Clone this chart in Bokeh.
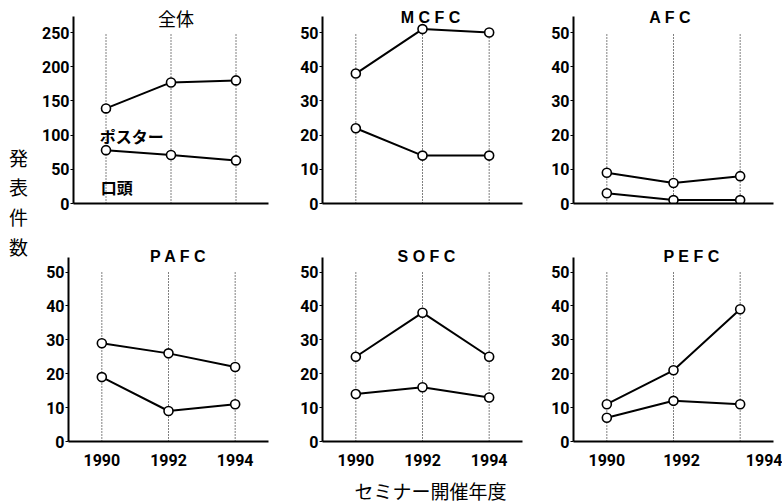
from bokeh.plotting import figure
from bokeh.layouts import column, row
from bokeh.models import FixedTicker, Range1d
from bokeh.embed import file_html
from bokeh.resources import INLINE
from bokeh.core.properties import value

# ---------------- data ----------------
years = [1990, 1992, 1994]
year_labels = ["1990", "1992", "1994"]

zentai_upper = [139, 177, 180]
zentai_lower = [78, 71, 63]
mcfc_upper = [38, 51, 50]
mcfc_lower = [22, 14, 14]
afc_upper = [9, 6, 8]
afc_lower = [3, 1, 1]
pafc_upper = [29, 26, 22]
pafc_lower = [19, 9, 11]
sofc_upper = [25, 38, 25]
sofc_lower = [14, 16, 13]
pefc_upper = [11, 21, 39]
pefc_lower = [7, 12, 11]

ticks_250 = [0, 50, 100, 150, 200, 250]
ticks_50 = [0, 10, 20, 30, 40, 50]

titles = ["全体", "M C F C", "A F C", "P A F C", "S O F C", "P E F C"]
label_poster = "ポスター"
label_oral = "口頭"
y_title_chars = ["発", "表", "件", "数"]
x_title = "セミナー開催年度"

CJK = "Noto Sans CJK JP"
LAT = "Liberation Sans"
NUM = "Roboto"


def panel(title, upper, lower, top_tick, yticks, scale, width, mbl, mbr,
          height, mbt, mbb, y_end, axis_top, title_x, title_y,
          show_xlabels, xtick_pos=None, cjk_title=False):
    p = figure(width=width, height=height, x_range=(1989.0, 1995.0),
               y_range=(0, y_end * scale), output_backend="svg",
               toolbar_location=None, min_border_left=mbl,
               min_border_right=mbr, min_border_top=mbt,
               min_border_bottom=mbb)
    p.grid.visible = False
    p.outline_line_color = None
    p.background_fill_color = "white"
    p.border_fill_color = "white"

    # dotted year guides
    p.segment(x0=years, y0=[0] * 3, x1=years, y1=[top_tick] * 3,
              line_color="black", line_width=1, line_dash="1 2")
    for series in (upper, lower):
        p.line(years, series, line_color="black", line_width=2)
        p.scatter(years, series, size=9, marker="circle",
                  fill_color="white", line_color="black", line_width=1.6)

    if cjk_title:
        p.text(x=[title_x], y=[title_y * scale], text=[title],
               text_align="center", text_baseline="middle",
               text_font=value(CJK), text_font_size="18px",
               text_color="black")
    else:
        p.text(x=[title_x], y=[title_y * scale], text=[title],
               text_align="center", text_baseline="middle",
               text_font=value(LAT), text_font_size="16px",
               text_font_style="bold", text_color="black")

    ya = p.yaxis[0]
    ya.ticker = FixedTicker(ticks=yticks)
    ya.bounds = (0, axis_top * scale)
    ya.axis_line_width = 2
    ya.major_tick_out = 3
    ya.major_tick_in = 0
    ya.minor_tick_out = 0
    ya.minor_tick_in = 0
    ya.major_label_standoff = 1
    ya.major_label_text_font = NUM
    ya.major_label_text_font_style = "bold"
    ya.major_label_text_font_size = "16px"
    ya.major_label_text_color = "black"

    xa = p.xaxis[0]
    xa.axis_line_width = 2
    xa.major_tick_out = 0
    xa.major_tick_in = 0
    xa.minor_tick_out = 0
    xa.minor_tick_in = 0
    if show_xlabels:
        pos = xtick_pos if xtick_pos is not None else years
        xa.ticker = FixedTicker(ticks=pos)
        xa.major_label_overrides = {pos[i]: year_labels[i] for i in range(3)}
        xa.major_label_standoff = 12
        xa.major_label_text_font = NUM
        xa.major_label_text_font_style = "bold"
        xa.major_label_text_font_size = "16px"
        xa.major_label_text_color = "black"
    else:
        xa.ticker = FixedTicker(ticks=[])
    return p


R1 = dict(height=230, mbt=0, mbb=27, y_end=59.36, axis_top=54.7)
R2 = dict(height=244, mbt=10, mbb=33, y_end=59.3, axis_top=54.3)
C1 = dict(width=232, mbl=30, mbr=2)
C2 = dict(width=254, mbl=52, mbr=2)
C3 = dict(width=258, mbl=49, mbr=9)

f1 = panel(titles[0], zentai_upper, zentai_lower, 250, ticks_250, 5,
           title_x=1992.15, title_y=54.2, show_xlabels=False,
           cjk_title=True, **C1, **R1)
f2 = panel(titles[1], mcfc_upper, mcfc_lower, 50, ticks_50, 1,
           title_x=1992.24, title_y=54.4, show_xlabels=False, **C2, **R1)
f3 = panel(titles[2], afc_upper, afc_lower, 50, ticks_50, 1,
           title_x=1991.9, title_y=54.4, show_xlabels=False, **C3, **R1)
f4 = panel(titles[3], pafc_upper, pafc_lower, 50, ticks_50, 1,
           title_x=1992.3, title_y=54.7, show_xlabels=True, **C1, **R2)
f5 = panel(titles[4], sofc_upper, sofc_lower, 50, ticks_50, 1,
           title_x=1992.12, title_y=54.7, show_xlabels=True, **C2, **R2)
f6 = panel(titles[5], pefc_upper, pefc_lower, 50, ticks_50, 1,
           title_x=1992.54, title_y=54.7, show_xlabels=True,
           xtick_pos=[1990, 1992.24, 1994.73], **C3, **R2)

# series labels in the 全体 panel
f1.text(x=[1989.81], y=[98.7], text=[label_poster], text_align="left",
        text_baseline="middle", text_font=value(CJK), text_font_size="16px",
        text_font_style="bold", text_color="black")
f1.text(x=[1989.84], y=[24.1], text=[label_oral], text_align="left",
        text_baseline="middle", text_font=value(CJK), text_font_size="16px",
        text_font_style="bold", text_color="black")

# narrow strip holding the stacked y title
fy = figure(width=38, height=504, x_range=Range1d(0, 38),
            y_range=Range1d(504, 0), output_backend="svg",
            toolbar_location=None, min_border=0)
fy.axis.visible = False
fy.grid.visible = False
fy.outline_line_color = None
fy.text(x=[18] * 4, y=[157, 186, 216, 246], text=y_title_chars,
        text_align="center", text_baseline="middle", text_font=value(CJK),
        text_font_size="19px", text_color="black")

# strip holding the x title
fx = figure(width=744, height=30, x_range=Range1d(38, 782),
            y_range=Range1d(504, 474), output_backend="svg",
            toolbar_location=None, min_border=0)
fx.axis.visible = False
fx.grid.visible = False
fx.outline_line_color = None
fx.text(x=[430], y=[490], text=[x_title], text_align="center",
        text_baseline="middle", text_font=value(CJK),
        text_font_size="19px", text_color="black")

layout = row(fy, column(row(f1, f2, f3), row(f4, f5, f6), fx))
open("out.html", "w").write(file_html(layout, INLINE))
